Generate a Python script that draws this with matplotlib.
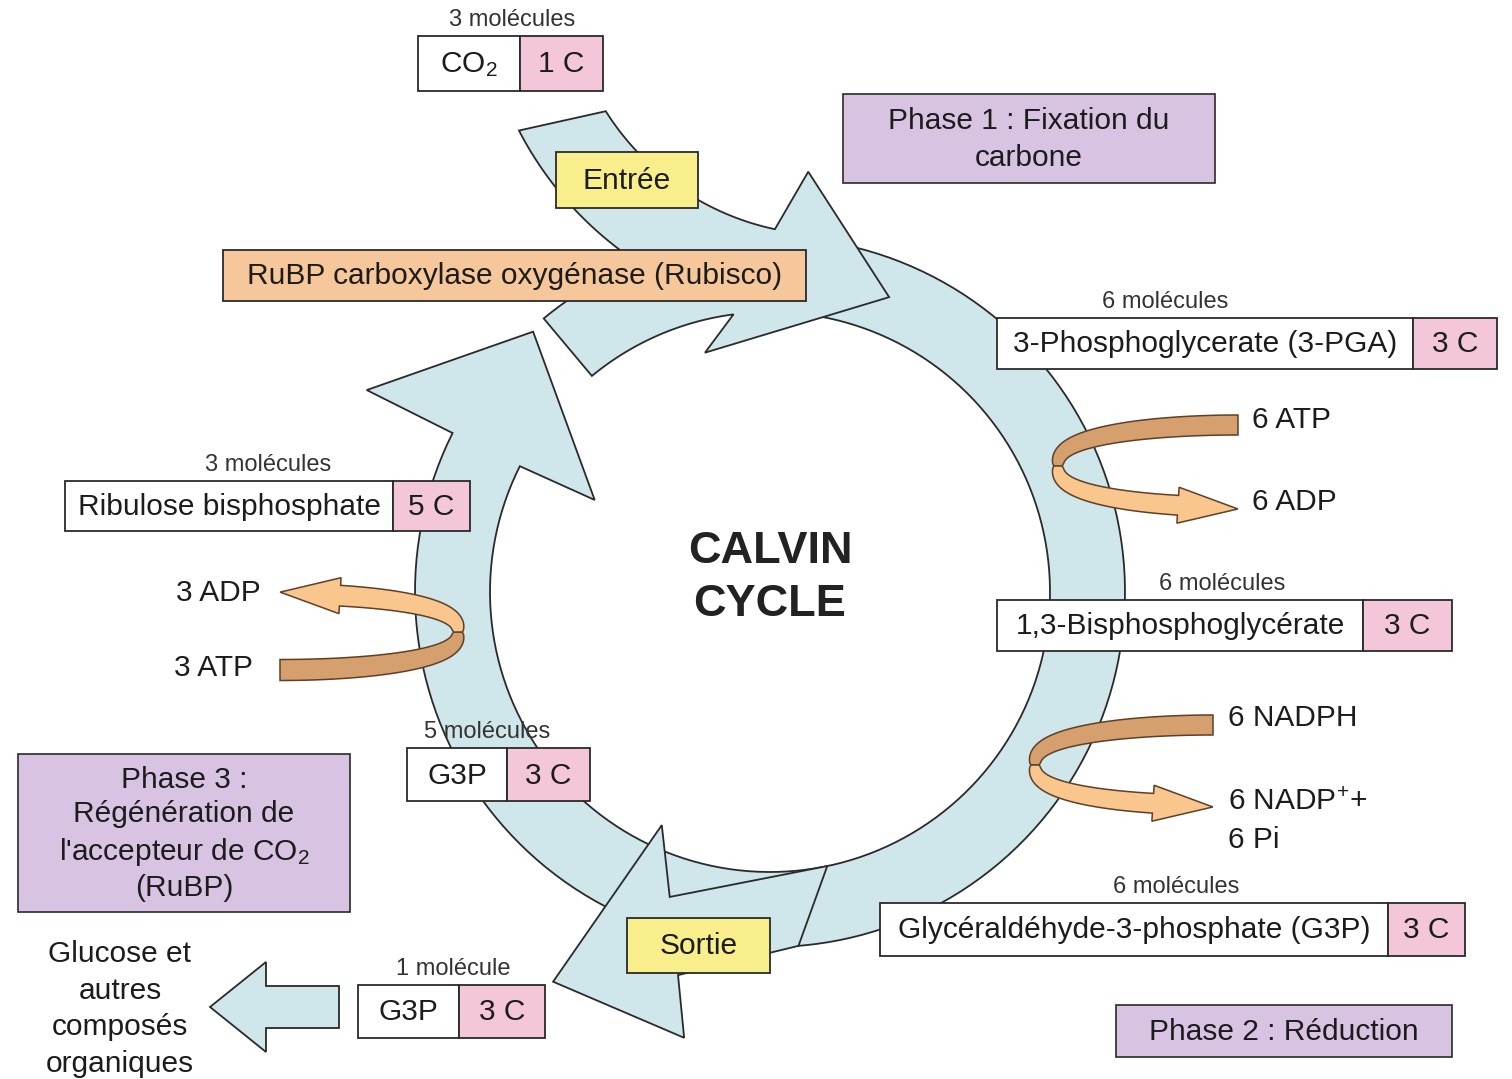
import numpy as np
import matplotlib.pyplot as plt
from matplotlib.patches import Polygon, Rectangle, FancyArrow

plt.rcParams["font.family"] = ["Liberation Sans", "DejaVu Sans"]
plt.rcParams["mathtext.fontset"] = "custom"
plt.rcParams["mathtext.rm"] = "Liberation Sans"
plt.rcParams["mathtext.it"] = "Liberation Sans:italic"
plt.rcParams["mathtext.bf"] = "Liberation Sans:bold"

# ==========================================================
# Contenu (textes du schéma)
# ==========================================================

compounds = [
    "CO$_2$",
    "3-Phosphoglycerate (3-PGA)",
    "1,3-Bisphosphoglycérate",
    "Glycéraldéhyde-3-phosphate (G3P)",
    "G3P",
    "Ribulose bisphosphate",
    "G3P",
]
carbons = ["1 C", "3 C", "3 C", "3 C", "3 C", "5 C", "3 C"]
counts = [
    "3 molécules",
    "6 molécules",
    "6 molécules",
    "6 molécules",
    "1 molécule",
    "3 molécules",
    "5 molécules",
]

phases = [
    "Phase 1 : Fixation du\ncarbone",
    "Phase 2 : Réduction",
    "Phase 3 :\nRégénération de\nl'accepteur de CO$_2$\n(RuBP)",
]
steps = ["Entrée", "Sortie", "RuBP carboxylase oxygénase (Rubisco)"]
cofactors = ["6 ATP", "6 ADP", "6 NADPH", "6 NADP$^{+}$+", "6 Pi", "3 ADP", "3 ATP"]
title = "CALVIN\nCYCLE"
product = "Glucose et\nautres\ncomposés\norganiques"

# ==========================================================
# Mise en page (pixels de l'image)
# ==========================================================

# x gauche, x séparation, x droite, y haut, y bas
compound_boxes = [
    (418, 520, 603, 36, 91),
    (997, 1413, 1497, 318, 369),
    (997, 1363, 1452, 600, 651),
    (880, 1388, 1465, 903, 956),
    (358, 459, 545, 985, 1038),
    (65, 393, 470, 481, 531),
    (407, 507, 590, 748, 801),
]
count_x = [512, 1165, 1222, 1176, 453, 268, 487]

phase_boxes = [(843, 1215, 94, 183), (1116, 1452, 1005, 1057), (18, 350, 754, 912)]
phase_spacing = [1.38, 1.38, 1.3]
step_boxes = [(556, 698, 152, 208), (627, 770, 918, 973), (223, 806, 250, 301)]
step_colors = ["#f8ef8c", "#f8ef8c", "#f6c79b"]
cofactor_xy = [
    (1252, 420), (1252, 502), (1228, 718), (1228, 802), (1228, 840),
    (176, 593), (174, 668),
]

RING = "#cfe6ea"
PINK = "#f3c6da"
PURPLE = "#d8c4e2"
EDGE = "#2a2a2a"
TXT = "#1c1c1c"
FS = 21.5

CX, CY = 770, 592
R_OUT, R_IN = 355, 280
E = (830, -30)  # centre de la bande "Entrée"


def pol(r, phi, c=(CX, CY)):
    a = np.radians(phi)
    return np.column_stack([c[0] + r * np.cos(a), c[1] - r * np.sin(a)])


def arc(r, phi0, phi1, c=(CX, CY), n=150):
    return pol(r, np.linspace(phi0, phi1, n), c)


def ribbon(ax, x_end, yc, a, b, w0, flip):
    """Flèche ruban (ATP -> ADP) : bande sombre puis bande claire."""

    def centre(t):
        ct = np.cos(t)
        return np.column_stack([
            x_end - flip * a * np.sin(t),
            yc - flip * b * np.sign(ct) * np.abs(ct) ** 0.75,
        ])

    def sides(t, w):
        c = centre(t)
        d = np.gradient(c, axis=0)
        n = np.column_stack([-d[:, 1], d[:, 0]])
        n /= np.hypot(n[:, 0], n[:, 1])[:, None]
        return c, n, c + n * w[:, None] / 2, c - n * w[:, None] / 2

    t1 = np.linspace(0, np.pi / 2, 120)
    w1 = w0 * (0.4 + 0.6 * np.abs(np.cos(t1)) ** 0.4)
    _, _, p, m = sides(t1, w1)
    ax.add_patch(Polygon(np.vstack([p, m[::-1]]), closed=True,
                         fc="#d6a06e", ec="#5e4028", lw=1.1, zorder=4))

    hl, hw = 60, 18
    tb = np.pi - np.arcsin(hl / a)
    t2 = np.linspace(np.pi / 2, tb, 120)
    w2 = w0 * (0.4 + 0.6 * np.abs(np.cos(t2)) ** 0.4)
    c, n, p, m = sides(t2, w2)
    d = c[-1] - c[-2]
    d /= np.hypot(*d)
    head = [c[-1] + n[-1] * hw, c[-1] + d * hl, c[-1] - n[-1] * hw]
    ax.add_patch(Polygon(np.vstack([p, head, m[::-1]]), closed=True,
                         fc="#f9c68e", ec="#5e4028", lw=1.1, zorder=4))


fig = plt.figure(figsize=(15.12, 10.79), dpi=100)
ax = fig.add_axes([0, 0, 1, 1])
ax.set_xlim(0, 1512)
ax.set_ylim(1079, 0)
ax.axis("off")

# ==========================================================
# Anneau du cycle
# ==========================================================

ring = np.vstack([
    arc(R_OUT, 82, 153.4 - 360),
    pol(451, 153.4 - 360),
    pol(352, 132.3 - 360),
    pol(198, 152.3 - 360),
    arc(R_IN, 153.3 - 360, 82),
])
ax.add_patch(Polygon(ring, closed=True, fc=RING, ec=EDGE, lw=1.3, zorder=1))

sortie = np.vstack([
    pol(R_IN, 281.8),
    pol(321, 251.8),
    pol(257, 245.1),
    pol(446, 240.9),
    pol(454, 259.1),
    pol(394, 256.5),
    pol(R_OUT, 274.6),
])
ax.add_patch(Polygon(sortie, closed=True, fc=RING, ec=EDGE, lw=1.3, zorder=2))

# bande "Entrée" + fixation (Rubisco)
left = arc(350, 207.3, 262, E, n=800)
inside = np.hypot(left[:, 0] - CX, left[:, 1] - CY) <= R_OUT
left = left[: np.argmax(inside) + 1]
phi_join = np.degrees(np.arctan2(-(left[-1, 1] - CY), left[-1, 0] - CX))
top = np.vstack([
    left,
    arc(R_OUT, phi_join, 129.6),
    arc(R_IN, 129.5, 97.5),
    pol(248, 105.2),
    pol(318, 68),
    pol(422, 84.8),
    arc(265, 258, 212.2, E),
])
ax.add_patch(Polygon(top, closed=True, fc=RING, ec=EDGE, lw=1.3, zorder=3))

# flèche de sortie vers le glucose
ax.add_patch(FancyArrow(339, 1007, -129, 0, width=42, head_width=90, head_length=56,
                        length_includes_head=True, fc=RING, ec=EDGE, lw=1.3, zorder=3))

# ==========================================================
# Rubans ATP / NADPH
# ==========================================================

ribbon(ax, 1238, 466, 180, 41, 20, 1)
ribbon(ax, 1213, 765, 178, 40, 20, 1)
ribbon(ax, 280, 632, 178, 38, 21, -1)

# ==========================================================
# Boîtes
# ==========================================================

for name, nc, cnt, cx_lab, (x0, xs, x1, y0, y1) in zip(
    compounds, carbons, counts, count_x, compound_boxes
):
    ax.add_patch(Rectangle((x0, y0), xs - x0, y1 - y0, fc="white", ec=EDGE, lw=1.3, zorder=5))
    ax.add_patch(Rectangle((xs, y0), x1 - xs, y1 - y0, fc=PINK, ec=EDGE, lw=1.3, zorder=5))
    ax.text((x0 + xs) / 2, (y0 + y1) / 2 + 1, name, ha="center", va="center",
            fontsize=FS, color=TXT, zorder=6)
    ax.text((xs + x1) / 2, (y0 + y1) / 2 + 1, nc, ha="center", va="center",
            fontsize=FS, color=TXT, zorder=6)
    ax.text(cx_lab, y0 - 16, cnt, ha="center", va="center",
            fontsize=17, color="#333333", zorder=6)

for txt, ls, (x0, x1, y0, y1) in zip(phases, phase_spacing, phase_boxes):
    ax.add_patch(Rectangle((x0, y0), x1 - x0, y1 - y0, fc=PURPLE, ec=EDGE, lw=1.2, zorder=5))
    ax.text((x0 + x1) / 2, (y0 + y1) / 2 + 1, txt, ha="center", va="center",
            fontsize=FS, color=TXT, linespacing=ls, zorder=6)

for txt, col, (x0, x1, y0, y1) in zip(steps, step_colors, step_boxes):
    ax.add_patch(Rectangle((x0, y0), x1 - x0, y1 - y0, fc=col, ec=EDGE, lw=1.3, zorder=5))
    ax.text((x0 + x1) / 2, (y0 + y1) / 2 + 1, txt, ha="center", va="center",
            fontsize=FS, color=TXT, zorder=6)

for txt, (x, y) in zip(cofactors, cofactor_xy):
    ax.text(x, y, txt, ha="left", va="center", fontsize=FS, color=TXT, zorder=6)

ax.text(770, 578, title, ha="center", va="center", fontsize=32.5, fontweight="bold",
        color="#222222", linespacing=1.38, zorder=6)
ax.text(120, 1009, product, ha="center", va="center", fontsize=FS, color=TXT,
        linespacing=1.38, zorder=6)

fig.savefig("out.png", dpi=100)
